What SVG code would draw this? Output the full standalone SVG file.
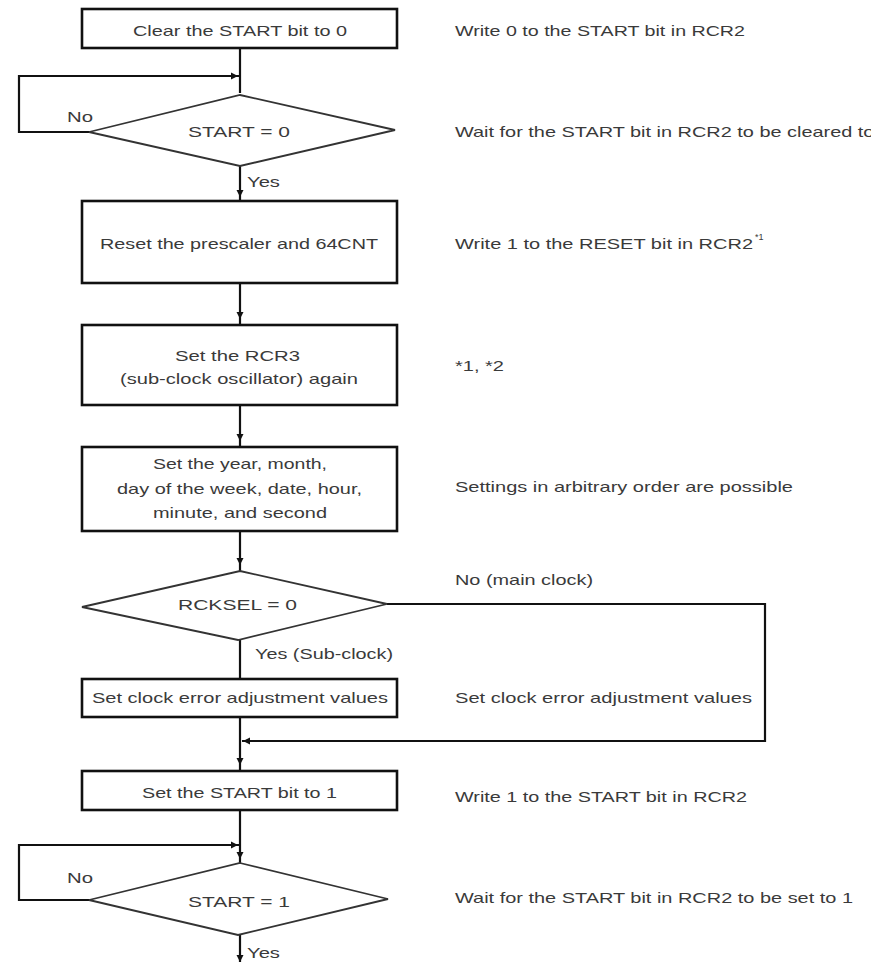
<svg xmlns="http://www.w3.org/2000/svg" width="871" height="963" viewBox="0 0 871 963">
<style>
.bg{fill:#fff}
.box{fill:#fff;stroke:#111;stroke-width:2.6}
.dia{fill:#fff;stroke:#333;stroke-width:1.8}
.ln{fill:none;stroke:#111;stroke-width:2.2}
.ah{fill:#111}
text{font-family:"Liberation Sans",Arial,sans-serif;font-size:15px;fill:#3a3a3a}
.sup{font-size:9px}
</style>
<rect class="bg" x="0" y="0" width="871" height="963"/>
<g id="connectors">
<path class="ln" d="M240 48 V93"/>
<path class="ln" d="M240 76 H19 V132 H90"/>
<polygon class="ah" points="238,76 231,72.5 231,79.5"/>
<path class="ln" d="M240 166 V201"/>
<polygon class="ah" points="240,197 236.5,190 243.5,190"/>
<path class="ln" d="M240 283 V325"/>
<polygon class="ah" points="240,319 236.5,312 243.5,312"/>
<path class="ln" d="M240 405 V447"/>
<polygon class="ah" points="240,441 236.5,434 243.5,434"/>
<path class="ln" d="M240 531 V571"/>
<polygon class="ah" points="240,565 236.5,558 243.5,558"/>
<path class="ln" d="M240 640 V679"/>
<path class="ln" d="M387 604 H765 V741 H242"/>
<polygon class="ah" points="243,741 250,737.5 250,744.5"/>
<path class="ln" d="M240 717 V771"/>
<polygon class="ah" points="240,765 236.5,758 243.5,758"/>
<path class="ln" d="M240 810 V863"/>
<path class="ln" d="M240 845 H19 V900 H89"/>
<polygon class="ah" points="238,845 231,841.5 231,848.5"/>
<polygon class="ah" points="240,859 236.5,852 243.5,852"/>
<path class="ln" d="M240 935 V962"/>
<polygon class="ah" points="240,962 236.5,955 243.5,955"/>
</g>
<g id="n1">
<rect class="box" x="82" y="9" width="315" height="39"/>
<text x="133" y="36" textLength="214" lengthAdjust="spacingAndGlyphs">Clear the START bit to 0</text>
</g>
<g id="d1">
<polygon class="dia" points="240,95 395,130 240,166 89,132"/>
<text x="188" y="137" textLength="102" lengthAdjust="spacingAndGlyphs">START = 0</text>
<text x="67" y="122" textLength="26" lengthAdjust="spacingAndGlyphs">No</text>
<text x="247" y="187" textLength="33" lengthAdjust="spacingAndGlyphs">Yes</text>
</g>
<g id="n2">
<rect class="box" x="82" y="201" width="315" height="82"/>
<text x="100" y="249" textLength="278" lengthAdjust="spacingAndGlyphs">Reset the prescaler and 64CNT</text>
</g>
<g id="n3">
<rect class="box" x="82" y="325" width="315" height="80"/>
<text x="175" y="361" textLength="125" lengthAdjust="spacingAndGlyphs">Set the RCR3</text>
<text x="120" y="384" textLength="238" lengthAdjust="spacingAndGlyphs">(sub-clock oscillator) again</text>
</g>
<g id="n4">
<rect class="box" x="82" y="447" width="315" height="84"/>
<text x="153" y="469" textLength="174" lengthAdjust="spacingAndGlyphs">Set the year, month,</text>
<text x="117" y="494" textLength="245" lengthAdjust="spacingAndGlyphs">day of the week, date, hour,</text>
<text x="153" y="518" textLength="174" lengthAdjust="spacingAndGlyphs">minute, and second</text>
</g>
<g id="d2">
<polygon class="dia" points="240,571 387,604 238,640 82,607"/>
<text x="178" y="610" textLength="119" lengthAdjust="spacingAndGlyphs">RCKSEL = 0</text>
<text x="255" y="659" textLength="138" lengthAdjust="spacingAndGlyphs">Yes (Sub-clock)</text>
<text x="455" y="585" textLength="138" lengthAdjust="spacingAndGlyphs">No (main clock)</text>
</g>
<g id="n5">
<rect class="box" x="82" y="679" width="315" height="38"/>
<text x="92" y="703" textLength="296" lengthAdjust="spacingAndGlyphs">Set clock error adjustment values</text>
</g>
<g id="n6">
<rect class="box" x="82" y="771" width="315" height="39"/>
<text x="142" y="798" textLength="195" lengthAdjust="spacingAndGlyphs">Set the START bit to 1</text>
</g>
<g id="d3">
<polygon class="dia" points="240,863 388,899 238,935 89,900"/>
<text x="188" y="907" textLength="102" lengthAdjust="spacingAndGlyphs">START = 1</text>
<text x="67" y="883" textLength="26" lengthAdjust="spacingAndGlyphs">No</text>
<text x="247" y="958" textLength="33" lengthAdjust="spacingAndGlyphs">Yes</text>
</g>
<g id="notes">
<text x="455" y="36" textLength="290" lengthAdjust="spacingAndGlyphs">Write 0 to the START bit in RCR2</text>
<text x="455" y="137" textLength="436" lengthAdjust="spacingAndGlyphs">Wait for the START bit in RCR2 to be cleared to 0</text>
<text x="455" y="249" textLength="298" lengthAdjust="spacingAndGlyphs">Write 1 to the RESET bit in RCR2</text>
<text class="sup" x="755" y="240">*1</text>
<text x="455" y="371" textLength="49" lengthAdjust="spacingAndGlyphs">*1, *2</text>
<text x="455" y="492" textLength="338" lengthAdjust="spacingAndGlyphs">Settings in arbitrary order are possible</text>
<text x="455" y="703" textLength="297" lengthAdjust="spacingAndGlyphs">Set clock error adjustment values</text>
<text x="455" y="802" textLength="292" lengthAdjust="spacingAndGlyphs">Write 1 to the START bit in RCR2</text>
<text x="455" y="903" textLength="398" lengthAdjust="spacingAndGlyphs">Wait for the START bit in RCR2 to be set to 1</text>
</g>
</svg>
